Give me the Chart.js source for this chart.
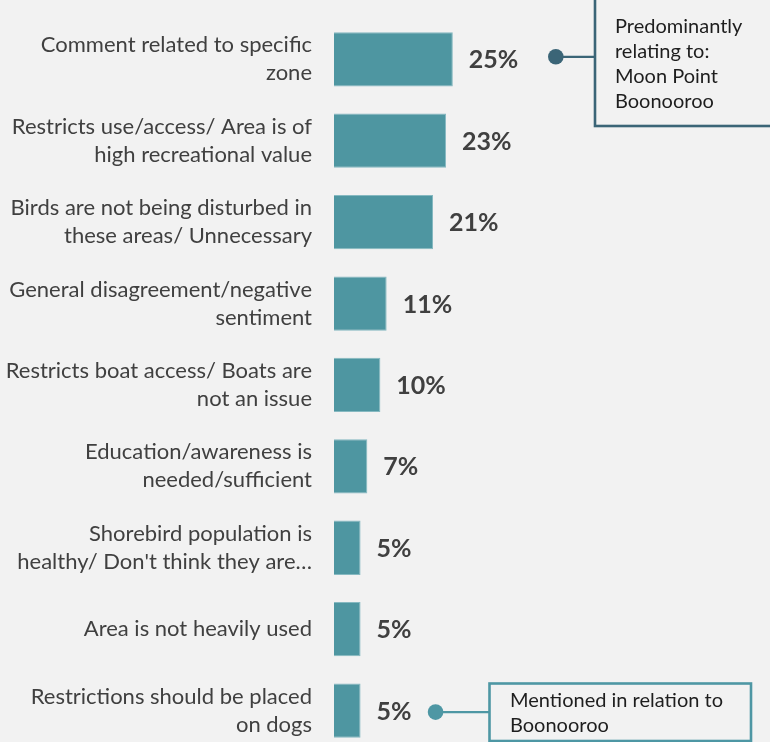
<!DOCTYPE html>
<html><head><meta charset="utf-8">
<script src="https://cdn.jsdelivr.net/npm/chart.js@4"></script>
<style>
html,body{margin:0;padding:0;background:#f2f2f2;overflow:hidden;height:742px}
#wrap{width:770px;height:742px;position:relative;overflow:hidden}
</style>
</head><body><div id="wrap"><canvas id="c" width="770" height="752"></canvas></div>
<script>
const categories = [
  ["Comment related to specific", "zone"],
  ["Restricts use/access/ Area is of", "high recreational value"],
  ["Birds are not being disturbed in", "these areas/ Unnecessary"],
  ["General disagreement/negative", "sentiment"],
  ["Restricts boat access/ Boats are", "not an issue"],
  ["Education/awareness is", "needed/sufficient"],
  ["Shorebird population is", "healthy/ Don't think they are…"],
  "Area is not heavily used",
  ["Restrictions should be placed", "on dogs"]
];
const values = [24.6, 23.2, 20.5, 10.9, 9.6, 6.9, 5.5, 5.5, 5.5];
const valueLabels = ["25%", "23%", "21%", "11%", "10%", "7%", "5%", "5%", "5%"];
const noteTexts = [
  ["Predominantly", "relating to:", "Moon Point", "Boonooroo"],
  ["Mentioned in relation to", "Boonooroo"]
];
const noteIndex = [0, 8];

const FONT = "Lato, 'Open Sans', sans-serif";
const noteStyles = [
  {color: '#3b6577', dotGap: 103, dy: -2.5, box: {x: 595, y: -4, w: 200, h: 130}, textX: 615, textY: 33, lh: 25},
  {color: '#4e97a4', dotGap: 75, dy: 1.5, box: {x: 489.5, y: 683.5, w: 261.5, h: 57.5}, textX: 510, textY: 706.5, lh: 25.8}
];

const labelPlugin = {
  id: 'valueLabels',
  afterDatasetsDraw(chart) {
    const ctx = chart.ctx;
    const meta = chart.getDatasetMeta(0);
    ctx.save();
    ctx.font = "bold 25px " + FONT;
    ctx.fillStyle = '#404040';
    ctx.textAlign = 'left';
    ctx.textBaseline = 'middle';
    meta.data.forEach((bar, i) => {
      ctx.fillText(valueLabels[i], bar.x + 16, bar.y + 1);
    });
    ctx.restore();
  }
};

const notePlugin = {
  id: 'notes',
  afterDraw(chart) {
    const ctx = chart.ctx;
    const meta = chart.getDatasetMeta(0);
    ctx.save();
    noteIndex.forEach((idx, n) => {
      const st = noteStyles[n];
      const bar = meta.data[idx];
      const dx = bar.x + st.dotGap;
      const dy = bar.y + st.dy;
      ctx.strokeStyle = st.color;
      ctx.fillStyle = st.color;
      ctx.lineWidth = 2.2;
      ctx.beginPath();
      ctx.moveTo(dx, dy);
      ctx.lineTo(st.box.x, dy);
      ctx.stroke();
      ctx.beginPath();
      ctx.arc(dx, dy, 7.8, 0, Math.PI * 2);
      ctx.fill();
      ctx.lineWidth = 2.6;
      ctx.strokeRect(st.box.x, st.box.y, st.box.w, st.box.h);
      ctx.fillStyle = '#1e1e1e';
      ctx.font = "20px " + FONT;
      ctx.textAlign = 'left';
      ctx.textBaseline = 'alphabetic';
      noteTexts[n].forEach((t, k) => ctx.fillText(t, st.textX, st.textY + k * st.lh));
    });
    ctx.restore();
  }
};

new Chart(document.getElementById('c'), {
  type: 'bar',
  data: {
    labels: categories,
    datasets: [{
      data: values,
      backgroundColor: '#4e96a1',
      borderColor: '#86b9c1',
      borderWidth: 1,
      barPercentage: 0.667,
      categoryPercentage: 1
    }]
  },
  options: {
    indexAxis: 'y',
    responsive: false,
    animation: false,
    layout: {padding: {top: 18.6, bottom: 0.7, left: 0, right: 1.3}},
    plugins: {legend: {display: false}, tooltip: {enabled: false}},
    scales: {
      x: {display: false, min: 0, max: 90},
      y: {
        grid: {display: false, drawTicks: false},
        border: {display: false},
        afterFit: s => { s.width = 334; s.paddingTop = 0; s.paddingBottom = 0; },
        ticks: {
          color: '#404040',
          padding: 22,
          font: {family: FONT, size: 22, lineHeight: 1.27}
        }
      }
    }
  },
  plugins: [labelPlugin, notePlugin]
});
</script>
</body></html>
